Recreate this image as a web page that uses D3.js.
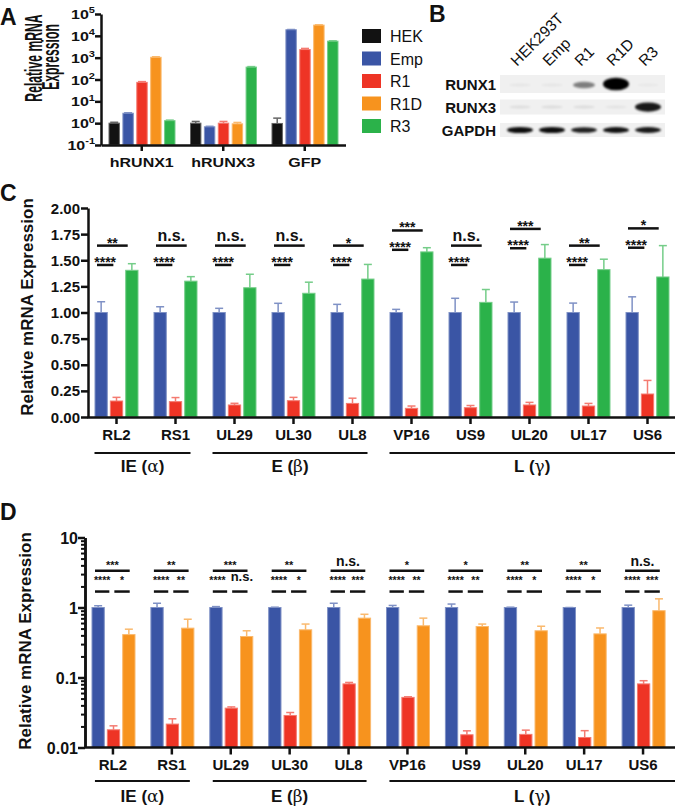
<!DOCTYPE html>
<html>
<head>
<meta charset="utf-8">
<script src="https://cdn.jsdelivr.net/npm/d3@7"></script>
<style>
body { margin: 0; background: #fff; }
text { font-family: "Liberation Sans", Arial, sans-serif; font-weight: bold; fill: #111; }
.axis path, .axis line { stroke: #111; stroke-width: 2.5; }
</style>
</head>
<body>
<svg id="fig" width="675" height="807"></svg>
<script>
// ---- panel A data
const catsA = ["hRUNX1", "hRUNX3", "GFP"];
const seriesA = ["HEK", "Emp", "R1", "R1D", "R3"];
const hekA = [1.0, 1.0, 0.97];
const hekAErr = [1.1, 1.2, 1.7];
const empA = [2.85, 0.68, 19000];
const empAErr = [3.0, 0.72, 19500];
const r1A = [74, 1.0, 2350];
const r1AErr = [80, 1.2, 2650];
const r1dA = [1040, 0.93, 31000];
const r1dAErr = [1100, 1.08, 32000];
const r3A = [1.3, 370, 5700];
const r3AErr = [1.38, 390, 5900];
const ticksA = [0.1, 1, 10, 100, 1e3, 1e4, 1e5];

// ---- panel B (blot band intensities 0..1)
const blotLanes = ["HEK293T", "Emp", "R1", "R1D", "R3"];
const blotRows = ["RUNX1", "RUNX3", "GAPDH"];
const bandRUNX1 = [0.04, 0.04, 0.45, 1.0, 0.03];
const bandRUNX3 = [0.07, 0.08, 0.08, 0.05, 0.85];
const bandGAPDH = [0.9, 0.9, 0.82, 0.88, 0.85];

// ---- panel C / D data
const genes = ["RL2", "RS1", "UL29", "UL30", "UL8", "VP16", "US9", "UL20", "UL17", "US6"];
const groups = [
  {name: "IE", greek: "\u03b1", from: "RL2", to: "RS1"},
  {name: "E", greek: "\u03b2", from: "UL29", to: "UL8"},
  {name: "L", greek: "\u03b3", from: "VP16", to: "US6"}
];
const seriesC = ["Emp", "R1", "R3"];
const empC = [1, 1, 1, 1, 1, 1, 1, 1, 1, 1];
const empCErr = [1.103, 1.055, 1.04, 1.088, 1.078, 1.03, 1.136, 1.10, 1.09, 1.15];
const r1C = [0.153, 0.147, 0.115, 0.156, 0.13, 0.083, 0.089, 0.115, 0.105, 0.22];
const r1CErr = [0.188, 0.186, 0.131, 0.188, 0.18, 0.105, 0.11, 0.14, 0.13, 0.35];
const r3C = [1.404, 1.30, 1.237, 1.184, 1.32, 1.58, 1.097, 1.52, 1.41, 1.34];
const r3CErr = [1.467, 1.343, 1.366, 1.29, 1.46, 1.62, 1.22, 1.65, 1.51, 1.64];
const ticksC = [0, 0.25, 0.5, 0.75, 1, 1.25, 1.5, 1.75, 2];
const sigCTop = ["**", "n.s.", "n.s.", "n.s.", "*", "***", "n.s.", "***", "**", "*"];
const sigCLow = ["****", "****", "****", "****", "****", "****", "****", "****", "****", "****"];
const sigCLevel = [1.64, 1.64, 1.64, 1.64, 1.64, 1.785, 1.64, 1.80, 1.64, 1.805];

const seriesD = ["Emp", "R1", "R1D"];
const empD = [1, 1, 1, 1, 1, 1, 1, 1, 1, 1];
const empDErr = [1.06, 1.15, 1.03, 1.01, 1.15, 1.07, 1.12, 1.01, 1.0, 1.08];
const r1D = [0.0179, 0.0216, 0.0365, 0.0287, 0.081, 0.052, 0.0152, 0.0154, 0.0139, 0.081];
const r1DErr = [0.0204, 0.0257, 0.038, 0.0316, 0.085, 0.053, 0.0173, 0.0177, 0.0174, 0.09];
const r1dD = [0.41, 0.507, 0.385, 0.48, 0.705, 0.548, 0.535, 0.465, 0.42, 0.9];
const r1dDErr = [0.49, 0.68, 0.465, 0.58, 0.80, 0.705, 0.58, 0.54, 0.51, 1.33];
const ticksD = [0.01, 0.1, 1, 10];
const sigDTop = ["***", "**", "***", "**", "n.s.", "*", "*", "**", "**", "n.s."];
const sigDLowA = ["****", "****", "****", "****", "****", "****", "****", "****", "****", "****"];
const sigDLowB = ["*", "**", "n.s.", "*", "***", "**", "**", "*", "*", "***"];
const sigDLevel = 3.35;
const sigDLevel2 = 1.69;

const colors = {HEK: "#121212", Emp: "#3a55a5", R1: "#ee3425", R1D: "#f7931e", R3: "#2bb24a"};
const light = c => d3.interpolateRgb(c, "#fff")(0.35);

const svg = d3.select("#fig");

// panel letters
[["A", 0, 25], ["B", 429, 22], ["C", 0, 201], ["D", 0, 520]].forEach(p => {
  svg.append("text").attr("x", p[1]).attr("y", p[2]).style("font-size", "23px").text(p[0]);
});

// generic bar + error drawing
function drawBars(g, rows, x, xin, y, base) {
  rows.forEach(d => {
    const bx = x(d.c) + xin(d.s), bw = xin.bandwidth();
    const col = colors[d.s];
    g.append("line")
      .attr("x1", bx + bw / 2).attr("x2", bx + bw / 2)
      .attr("y1", y(d.v)).attr("y2", y(d.e))
      .attr("stroke", light(col)).attr("stroke-width", 1.5);
    g.append("line")
      .attr("x1", bx + bw / 2 - 4).attr("x2", bx + bw / 2 + 4)
      .attr("y1", y(d.e)).attr("y2", y(d.e))
      .attr("stroke", light(col)).attr("stroke-width", 1.5);
    g.append("rect")
      .attr("x", bx).attr("width", bw)
      .attr("y", y(d.v)).attr("height", y(base) - y(d.v))
      .attr("fill", col).attr("stroke", light(col)).attr("stroke-width", 1);
  });
}

// ================= PANEL A =================
const gA = svg.append("g");
const xA = d3.scaleBand().domain(catsA).range([101, 345.5]);
const xAin = d3.scaleBand().domain(seriesA).range([8, 74]).paddingInner(0.25);
const yA = d3.scaleLog().domain([0.1, 1e5]).range([145, 14]);
const valsA = [hekA, empA, r1A, r1dA, r3A], errsA = [hekAErr, empAErr, r1AErr, r1dAErr, r3AErr];
const rowsA = [];
seriesA.forEach((s, k) => catsA.forEach((c, i) => rowsA.push({s, c, v: valsA[k][i], e: errsA[k][i]})));
drawBars(gA, rowsA, xA, xAin, yA, 0.1);

gA.append("g").attr("class", "axis").attr("transform", "translate(101,0)")
  .call(d3.axisLeft(yA).tickValues(ticksA).tickFormat("").tickSize(6).tickSizeOuter(0));
gA.append("g").attr("class", "axis").attr("transform", "translate(0,145)")
  .call(d3.axisBottom(xA).tickFormat("").tickSize(6).tickSizeOuter(0));

const SQ = 0.8;
ticksA.forEach(t => {
  const tx = gA.append("text").attr("text-anchor", "end")
    .attr("transform", `translate(95,${yA(t) + 5}) scale(1,${SQ})`)
    .style("font-size", "16px");
  tx.append("tspan").text("10");
  tx.append("tspan").attr("dy", -7).style("font-size", "11px").text(Math.round(Math.log10(t)));
});
catsA.forEach(c => {
  gA.append("text").attr("text-anchor", "middle")
    .attr("transform", `translate(${xA(c) + xA.bandwidth() / 2},167) scale(1,${SQ})`)
    .style("font-size", "16px").text(c);
});
// two-line title, squeezed along its length like the source figure
[["Relative mRNA", 42, 58], ["Expression", 59, 57]].forEach(l => {
  gA.append("text").attr("text-anchor", "middle")
    .attr("transform", `translate(${l[1]},${l[2]}) rotate(-90) scale(0.53,1)`)
    .style("font-size", "23px").text(l[0]);
});

// legend
const legY = d3.scalePoint().domain(seriesA).range([36, 126]);
seriesA.forEach(s => {
  gA.append("rect").attr("x", 362).attr("y", legY(s) - 7).attr("width", 19).attr("height", 14)
    .attr("fill", colors[s]);
  gA.append("text").attr("x", 390).attr("y", legY(s) + 6)
    .style("font-weight", "normal").style("font-size", "16px").text(s);
});

// ================= PANEL B =================
const gB = svg.append("g");
const defs = svg.append("defs");
defs.append("filter").attr("id", "blur").attr("x", "-50%").attr("y", "-100%").attr("width", "200%").attr("height", "300%")
  .append("feGaussianBlur").attr("stdDeviation", 1.1);
const laneX = d3.scalePoint().domain(blotLanes).range([520, 648]);
const rowY = d3.scalePoint().domain(blotRows).range([84, 130]);
const stripH = {RUNX1: 18, RUNX3: 15, GAPDH: 14};
const bandMax = {RUNX1: 11, RUNX3: 9, GAPDH: 5};
const bands = {RUNX1: bandRUNX1, RUNX3: bandRUNX3, GAPDH: bandGAPDH};
blotRows.forEach(r => {
  gB.append("rect").attr("x", 500).attr("width", 165)
    .attr("y", rowY(r) - stripH[r] / 2).attr("height", stripH[r]).attr("fill", "#f0f0f0");
  bands[r].forEach((v, i) => {
    gB.append("ellipse")
      .attr("cx", laneX(blotLanes[i])).attr("cy", rowY(r) + (r === "RUNX1" && v < 0.6 ? 1 : 0))
      .attr("rx", v > 0.5 ? 13 : 11).attr("ry", Math.max(1.5, bandMax[r] * v / 2 + 0.8))
      .attr("fill", "#000").attr("opacity", Math.min(1, v * 1.05))
      .attr("filter", "url(#blur)");
  });
  gB.append("text").attr("x", 496).attr("y", rowY(r) + 6).attr("text-anchor", "end")
    .style("font-size", "15px").text(r);
});
blotLanes.forEach(l => {
  gB.append("text").attr("transform", `translate(${laneX(l) - 3},67) rotate(-45)`)
    .style("font-weight", "normal").style("font-size", "15.5px").text(l);
});

// ================= shared helpers for C / D =================
function groupLines(g, x, yLine, yText, off1, off2) {
  groups.forEach((gr, k) => {
    const c1 = x(gr.from) + x.bandwidth() / 2, c2 = x(gr.to) + x.bandwidth() / 2;
    const x1 = c1 - off1, x2 = k === groups.length - 1 ? 675 : c2 + off2;
    g.append("line").attr("x1", x1).attr("x2", x2).attr("y1", yLine).attr("y2", yLine)
      .attr("stroke", "#111").attr("stroke-width", 2.2);
    const t = g.append("text").attr("x", (x1 + x2) / 2).attr("y", yText).attr("text-anchor", "middle")
      .style("font-size", "17px");
    t.append("tspan").text(gr.name + " (");
    t.append("tspan").style("font-family", "'DejaVu Serif', 'Liberation Serif', serif").style("font-weight", "normal").text(gr.greek);
    t.append("tspan").text(")");
  });
}
function hline(g, x1, x2, y) {
  g.append("line").attr("x1", x1).attr("x2", x2).attr("y1", y).attr("y2", y)
    .attr("stroke", "#111").attr("stroke-width", 2.5);
}
function sigText(g, x, y, s, starSize, nsSize) {
  const ns = s === "n.s.";
  g.append("text").attr("x", x).attr("y", ns ? y - 5 : y + (starSize > 12 ? 2 : -2))
    .attr("text-anchor", "middle").style("font-size", (ns ? nsSize : starSize) + "px").text(s);
}

// ================= PANEL C =================
const gC = svg.append("g");
const xC = d3.scaleBand().domain(genes).range([87, 677]);
const xCin = d3.scaleBand().domain(seriesC).range([8, 51]).paddingInner(0.2);
const yC = d3.scaleLinear().domain([0, 2]).range([417, 208]);
const valsC = [empC, r1C, r3C], errsC = [empCErr, r1CErr, r3CErr];
const rowsC = [];
seriesC.forEach((s, k) => genes.forEach((c, i) => rowsC.push({s, c, v: valsC[k][i], e: errsC[k][i]})));
drawBars(gC, rowsC, xC, xCin, yC, 0);

gC.append("g").attr("class", "axis").attr("transform", "translate(88,0)")
  .call(d3.axisLeft(yC).tickValues(ticksC).tickFormat("").tickSize(7).tickSizeOuter(0));
gC.append("g").attr("class", "axis").attr("transform", "translate(0,417)")
  .call(d3.axisBottom(xC).tickFormat("").tickSize(7).tickSizeOuter(0));
ticksC.forEach(t => {
  gC.append("text").attr("x", 80).attr("y", yC(t) + 5.5).attr("text-anchor", "end")
    .style("font-size", "15px").text(d3.format(".2f")(t));
});
genes.forEach(c => {
  gC.append("text").attr("x", xC(c) + xC.bandwidth() / 2).attr("y", 440).attr("text-anchor", "middle")
    .style("font-size", "15px").text(c);
});
gC.append("text").attr("transform", "translate(33,307) rotate(-90)").attr("text-anchor", "middle")
  .style("font-size", "17px").text("Relative mRNA Expression");

genes.forEach((c, i) => {
  const bl = xC(c) + xCin("Emp"), rl = xC(c) + xCin("R1"), gl = xC(c) + xCin("R3");
  const yt = yC(sigCLevel[i]), yl = yC(sigCLevel[i] - 0.185);
  hline(gC, bl + 2, gl + 2, yt);
  hline(gC, bl + 2, rl + 3, yl);
  sigText(gC, (bl + gl) / 2 + 2, yt, sigCTop[i], 14, 16);
  sigText(gC, (bl + rl) / 2 + 2.5, yl, sigCLow[i], 14, 16);
});
groupLines(gC, xC, 453, 472, 22, 15);

// ================= PANEL D =================
const gD = svg.append("g");
const xD = d3.scaleBand().domain(genes).range([83.5, 672.5]);
const xDin = d3.scaleBand().domain(seriesD).range([8.5, 51.5]).paddingInner(0.2);
const yD = d3.scaleLog().domain([0.01, 10]).range([747.5, 537.5]);
const valsD = [empD, r1D, r1dD], errsD = [empDErr, r1DErr, r1dDErr];
const rowsD = [];
seriesD.forEach((s, k) => genes.forEach((c, i) => rowsD.push({s, c, v: valsD[k][i], e: errsD[k][i]})));
drawBars(gD, rowsD, xD, xDin, yD, 0.01);

const minorD = [];
[0.01, 0.1, 1].forEach(b => d3.range(2, 10).forEach(m => minorD.push(b * m)));
gD.append("g").attr("class", "axis").attr("transform", "translate(85,0)")
  .call(d3.axisLeft(yD).tickValues(minorD).tickFormat("").tickSize(4).tickSizeOuter(0))
  .selectAll(".tick line").style("stroke-width", 2);
gD.append("g").attr("class", "axis").attr("transform", "translate(85,0)")
  .call(d3.axisLeft(yD).tickValues(ticksD).tickFormat("").tickSize(7).tickSizeOuter(0));
gD.append("g").attr("class", "axis").attr("transform", "translate(0,747.5)")
  .call(d3.axisBottom(xD).tickFormat("").tickSize(7).tickSizeOuter(0))
  .select(".domain").attr("d", "M85,0H675");
ticksD.forEach(t => {
  gD.append("text").attr("x", 78).attr("y", yD(t) + 6).attr("text-anchor", "end")
    .style("font-size", "16px").text(String(t));
});
genes.forEach(c => {
  gD.append("text").attr("x", xD(c) + xD.bandwidth() / 2).attr("y", 770).attr("text-anchor", "middle")
    .style("font-size", "15px").text(c);
});
gD.append("text").attr("transform", "translate(31,641) rotate(-90)").attr("text-anchor", "middle")
  .style("font-size", "17px").text("Relative mRNA Expression");

genes.forEach((c, i) => {
  const bl = xD(c) + xDin("Emp"), rl = xD(c) + xDin("R1"), ol = xD(c) + xDin("R1D");
  const yt = yD(sigDLevel), yl = yD(sigDLevel2);
  const nsRight = sigDLowB[i] === "n.s.";
  hline(gD, bl + 3, ol + 7, yt);
  hline(gD, bl + 3, rl + 2, yl);
  hline(gD, rl + 7, ol + 7, yl);
  sigText(gD, (bl + ol) / 2 + 5, yt, sigDTop[i], 11, 14);
  sigText(gD, (bl + rl) / 2 + (nsRight ? 0 : 2.5), yl - 6, sigDLowA[i], 10.5, 13);
  sigText(gD, (rl + ol) / 2 + (nsRight ? 9 : 7), yl - 6, sigDLowB[i], 10.5, 13);
});
groupLines(gD, xD, 781, 802, 18, 18);
</script>
</body>
</html>
